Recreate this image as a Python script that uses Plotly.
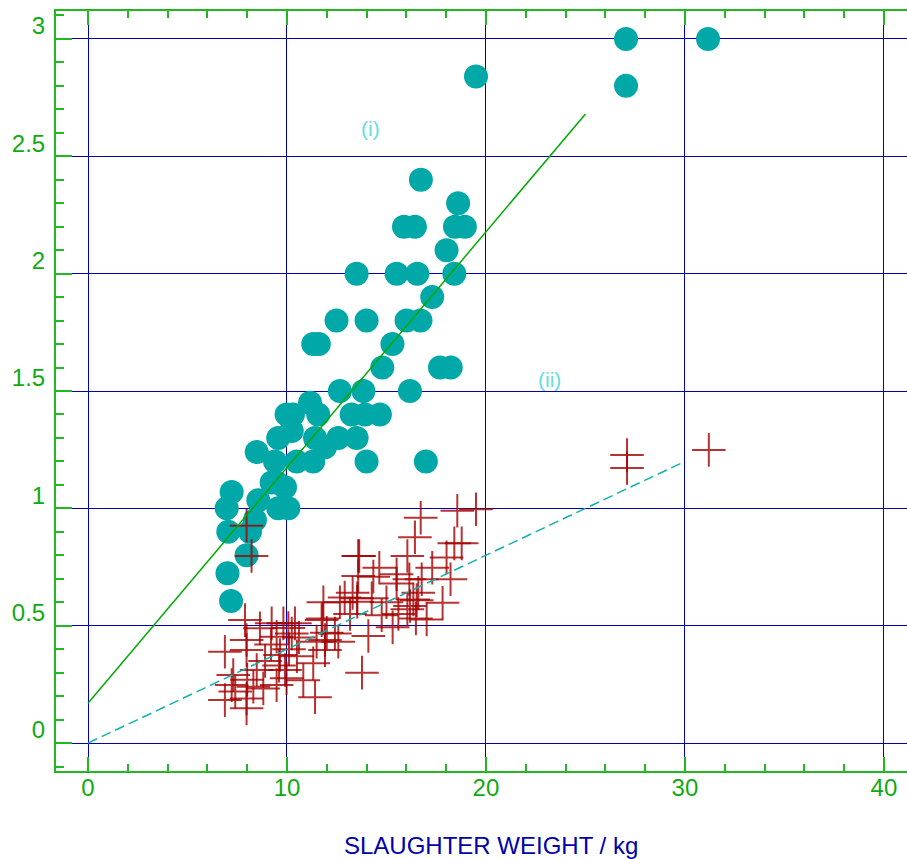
import plotly.graph_objects as go

# ---- data ----
circ_x = [31.16, 27.04, 27.04, 19.5, 16.73, 18.6, 15.88, 16.43, 18.44, 18.94, 18.02,
          13.5, 15.51, 16.55, 18.41, 17.3, 12.49, 14.0, 16.01, 16.71, 11.32, 11.6,
          15.3, 14.79, 17.69, 18.23, 12.66, 13.84, 16.18, 11.16, 9.98, 10.3, 11.57,
          13.25, 13.92, 14.67, 9.56, 10.24, 11.41, 11.91, 12.58, 13.5, 14.0, 16.98,
          8.48, 9.4, 10.49, 11.32, 9.48, 9.9, 9.23, 7.22, 8.56, 6.97, 9.56, 10.07,
          8.39, 7.05, 8.14, 7.97, 7.01, 7.19]
circ_y = [3.0, 3.0, 2.80, 2.84, 2.40, 2.30, 2.20, 2.20, 2.20, 2.20, 2.10,
          2.0, 2.0, 2.0, 2.0, 1.90, 1.80, 1.80, 1.80, 1.80, 1.70, 1.70,
          1.70, 1.60, 1.60, 1.60, 1.50, 1.50, 1.50, 1.45, 1.40, 1.40, 1.40,
          1.40, 1.40, 1.40, 1.30, 1.33, 1.30, 1.26, 1.30, 1.30, 1.20, 1.20,
          1.24, 1.20, 1.20, 1.20, 1.11, 1.09, 1.11, 1.07, 1.035, 1.0, 1.0, 1.0,
          0.95, 0.90, 0.90, 0.80, 0.724, 0.605]

cross_x = [7.97, 8.22, 13.58, 16.72, 18.56, 19.5, 16.43, 18.41, 18.78, 16.05, 18.02,
           14.64, 17.3, 15.51, 16.15, 16.77, 18.22, 15.51, 16.35, 16.18, 16.05, 17.82,
           14.76, 16.48, 14.26, 14.34, 13.63, 13.58, 13.53, 13.53, 12.66, 11.83, 16.52,
           13.17, 17.02, 15.31, 14.09, 11.91, 12.58, 11.91, 13.77, 11.79, 7.89, 11.74,
           9.23, 9.82, 10.4, 9.48, 10.24, 11.49, 12.41, 7.97, 8.64, 6.88, 7.97, 9.65,
           11.32, 7.3, 8.48, 9.9, 9.98, 10.82, 8.31, 9.48, 6.88, 7.97, 11.41, 7.97,
           7.22, 8.81, 27.09, 27.09, 31.2, 10.07, 10.6, 9.2, 10.1, 8.9, 9.6, 10.5,
           8.0, 7.4, 12.0, 12.9, 13.3, 15.6, 15.0, 16.6]
cross_y = [0.926, 0.797, 0.797, 0.96, 0.99, 0.996, 0.877, 0.851, 0.851, 0.797, 0.791,
           0.747, 0.747, 0.719, 0.698, 0.698, 0.698, 0.68, 0.612, 0.584, 0.57, 0.598,
           0.545, 0.531, 0.617, 0.709, 0.797, 0.712, 0.617, 0.602, 0.60, 0.60, 0.609,
           0.55, 0.527, 0.493, 0.456, 0.439, 0.432, 0.396, 0.30, 0.531, 0.524, 0.524,
           0.51, 0.51, 0.51, 0.453, 0.467, 0.432, 0.467, 0.439, 0.489, 0.389, 0.396, 0.375,
           0.34, 0.29, 0.311, 0.311, 0.276, 0.268, 0.24, 0.247, 0.183, 0.19, 0.195, 0.148,
           0.247, 0.233, 1.227, 1.172, 1.249, 0.49, 0.45, 0.42, 0.40, 0.35, 0.33, 0.37,
           0.27, 0.22, 0.47, 0.62, 0.64, 0.55, 0.60, 0.64]

fit_i_x = [0, 25]
fit_i_y = [0.17, 2.68]
fit_ii_x = [0, 30]
fit_ii_y = [0.0, 1.2]

x_ticks = [0, 10, 20, 30, 40]
y_ticks = [0, 0.5, 1, 1.5, 2, 2.5, 3]
y_tick_text = ["0", "0.5", "1", "1.5", "2", "2.5", "3"]

GREEN_AX = "#22b822"
GREEN_TXT = "#11aa11"
GRID_BLUE = "#0000b0"
FONT = "Liberation Sans, Arial, sans-serif"

fig = go.Figure()
fig.add_trace(go.Scatter(x=circ_x, y=circ_y, mode="markers",
                         marker=dict(symbol="circle", size=24, color="#00a8a8",
                                     line=dict(width=0)),
                         showlegend=False, hoverinfo="skip"))
fig.add_trace(go.Scatter(x=cross_x, y=cross_y, mode="markers",
                         marker=dict(symbol="cross-thin", size=24,
                                     color="rgba(165,0,0,0.8)",
                                     line=dict(width=2, color="rgba(165,0,0,0.8)")),
                         showlegend=False, hoverinfo="skip"))
fig.add_trace(go.Scatter(x=fit_i_x, y=fit_i_y, mode="lines",
                         line=dict(color="#00aa00", width=1.5),
                         showlegend=False, hoverinfo="skip"))
fig.add_trace(go.Scatter(x=fit_ii_x, y=fit_ii_y, mode="lines",
                         line=dict(color="#10b0b0", width=1.5, dash="10px,5px"),
                         showlegend=False, hoverinfo="skip"))

fig.update_layout(
    width=907, height=859,
    margin=dict(l=56, r=0, t=11, b=88),
    paper_bgcolor="white", plot_bgcolor="white",
    font=dict(family=FONT),
    xaxis=dict(range=[-1.608, 41.16], tickvals=x_ticks, ticktext=[str(v) for v in x_ticks],
               showgrid=True, gridcolor=GRID_BLUE, gridwidth=1, zeroline=False,
               showline=True, linecolor=GREEN_AX, linewidth=2, mirror="ticks",
               ticks="inside", ticklen=14, tickwidth=2, tickcolor=GREEN_AX,
               minor=dict(dtick=2, ticks="inside", ticklen=7, tickwidth=1.5,
                          tickcolor=GREEN_AX, showgrid=False),
               tickfont=dict(size=24, color=GREEN_TXT, family=FONT),
               ticklabelstandoff=-6),
    yaxis=dict(range=[-0.119, 3.119], tickvals=y_ticks, ticktext=y_tick_text,
               showgrid=True, gridcolor=GRID_BLUE, gridwidth=1, zeroline=False,
               showline=True, linecolor=GREEN_AX, linewidth=2, mirror=False,
               ticks="inside", ticklen=16, tickwidth=2, tickcolor=GREEN_AX,
               minor=dict(dtick=0.1, ticks="inside", ticklen=8, tickwidth=1.5,
                          tickcolor=GREEN_AX, showgrid=False),
               tickfont=dict(size=24, color=GREEN_TXT, family=FONT),
               ticklabelshift=-13, ticklabelstandoff=4),
    annotations=[
        dict(text="SLAUGHTER WEIGHT / kg", xref="paper", yref="paper",
             x=(640 - 56) / 851, y=-(845 - 771) / 760, xanchor="right", yanchor="middle",
             showarrow=False, font=dict(size=24, color="#0000aa", family=FONT)),
        dict(text="(i)", xref="x", yref="y", x=14.2, y=2.62, showarrow=False,
             font=dict(size=21, color="#66dddd", family=FONT)),
        dict(text="(ii)", xref="x", yref="y", x=23.2, y=1.55, showarrow=False,
             font=dict(size=21, color="#66dddd", family=FONT)),
    ],
)

fig.write_html("out.html", config={"displayModeBar": False},
               post_script="document.body.style.margin='0';document.body.style.overflow='hidden';")
